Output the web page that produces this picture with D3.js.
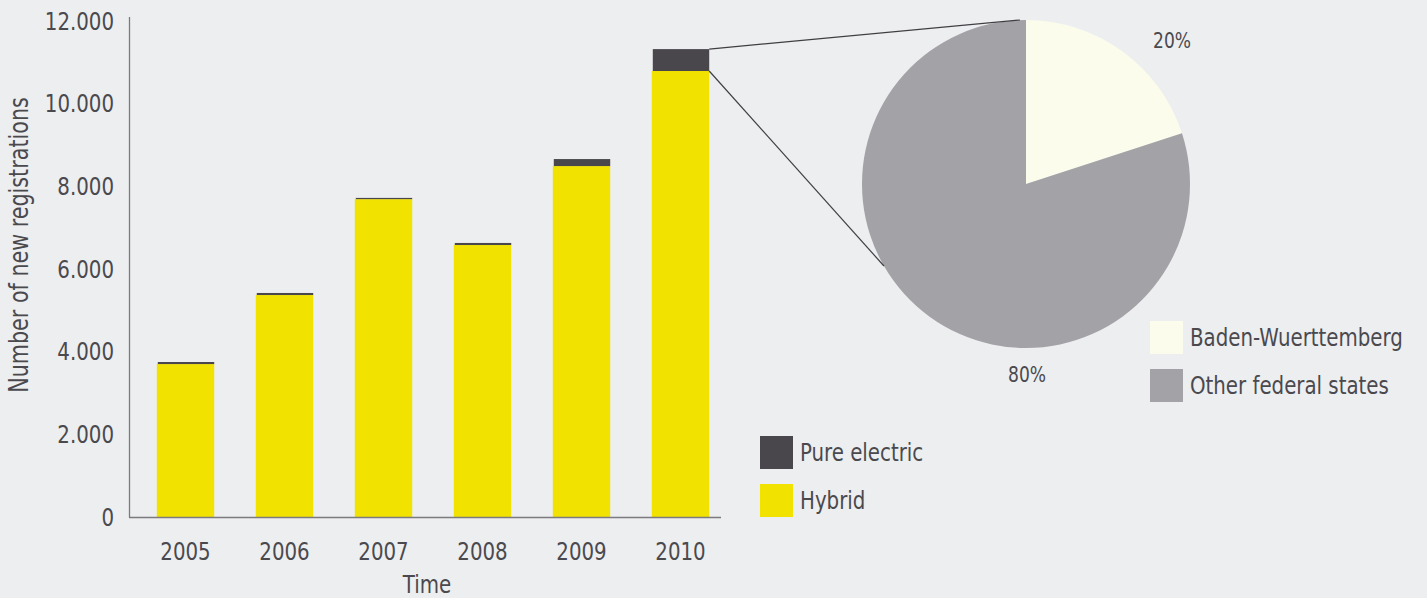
<!DOCTYPE html>
<html><head><meta charset="utf-8">
<script src="https://cdn.jsdelivr.net/npm/d3@7"></script>
<style>
html,body{margin:0;padding:0;background:#EDEEF0;}
svg{display:block;}
text{font-family:"Liberation Sans Narrow","DejaVu Sans Condensed","Liberation Sans",sans-serif;fill:#4a494e;}
</style></head><body>
<svg id="c" width="1427" height="598"></svg>
<script>
const years = ["2005","2006","2007","2008","2009","2010"];
const hybrid = [3700, 5370, 7690, 6580, 8490, 10790];
const electric = [50, 50, 30, 50, 170, 530];
const yTicks = [0, 2000, 4000, 6000, 8000, 10000, 12000];
const pieLabels = ["Baden-Wuerttemberg", "Other federal states"];
const pieValues = [20, 80];
const barLegend = ["Pure electric", "Hybrid"];

const W = 1427, H = 598;
const colHybrid = "#F2E200", colElectric = "#49474C";
const colBW = "#FBFCEB", colOther = "#A3A2A6";
const SY = 1.14; // vertical stretch of condensed type

const svg = d3.select("#c");
svg.append("rect").attr("width", W).attr("height", H).attr("fill", "#EDEEF0");

const loc = d3.formatLocale({decimal: ",", thousands: ".", grouping: [3], currency: ["", "€"]});
const fmt = loc.format(",d");

const x = d3.scaleBand().domain(years).range([136, 730]).paddingInner(0.42).paddingOuter(0.21);
const y = d3.scaleLinear().domain([0, 12000]).range([517, 21]);

function txt(parent, tx, ty, s, size, anchor, rot) {
  return parent.append("text")
    .attr("transform", `translate(${tx},${ty})` + (rot ? ` rotate(${rot})` : "") + ` scale(1,${SY})`)
    .attr("text-anchor", anchor || "start").attr("font-size", size).text(s);
}

// bars
const g = svg.append("g");
g.selectAll("rect.h").data(years).join("rect")
  .attr("x", d => x(d)).attr("width", x.bandwidth())
  .attr("y", (d, i) => y(hybrid[i])).attr("height", (d, i) => y(0) - y(hybrid[i]))
  .attr("fill", colHybrid);
g.selectAll("rect.e").data(years).join("rect")
  .attr("x", d => x(d) + 1).attr("width", x.bandwidth() - 1)
  .attr("y", (d, i) => y(hybrid[i] + electric[i])).attr("height", (d, i) => y(hybrid[i]) - y(hybrid[i] + electric[i]))
  .attr("fill", colElectric);

// y axis
const yAxis = d3.axisLeft(y).tickValues(yTicks).tickFormat(fmt).tickSize(0).tickPadding(15);
const ya = svg.append("g").attr("transform", "translate(129,0)").call(yAxis);
ya.select(".domain").remove();
ya.selectAll("text").attr("font-size", 22).attr("fill", "#4a494e").style("font-family", null)
  .attr("x", null).attr("dy", null).attr("y", null)
  .attr("transform", `translate(-15,8) scale(1,${SY})`);
svg.append("line").attr("x1", 129.5).attr("x2", 129.5).attr("y1", 17).attr("y2", 517.5).attr("stroke", "#7b7a7e").attr("stroke-width", 1.3);

// x axis
const xAxis = d3.axisBottom(x).tickSize(0).tickPadding(24);
const xa = svg.append("g").attr("transform", "translate(0,517)").call(xAxis);
xa.select(".domain").remove();
xa.selectAll("text").attr("font-size", 22).attr("fill", "#4a494e").style("font-family", null)
  .attr("y", null).attr("dy", null)
  .attr("transform", `translate(0,43) scale(1,${SY})`);
svg.append("line").attr("x1", 129).attr("x2", 721).attr("y1", 517.5).attr("y2", 517.5).attr("stroke", "#7b7a7e").attr("stroke-width", 1.3);

txt(svg, 427, 593, "Time", 22, "middle");
txt(svg, 28, 245, "Number of new registrations", 23, "middle", -90);

// bar legend
[colElectric, colHybrid].forEach((c, i) => {
  svg.append("rect").attr("x", 760).attr("y", 436 + i * 48).attr("width", 33).attr("height", 33).attr("fill", c);
  txt(svg, 800, 461 + i * 48, barLegend[i], 22);
});

// pie
const cx = 1026, cy = 184, r = 164;
const pie = d3.pie().sort(null).value(d => d);
const arcs = pie(pieValues);
const arc = d3.arc().innerRadius(0).outerRadius(r);
const pg = svg.append("g").attr("transform", `translate(${cx},${cy})`);
pg.selectAll("path").data(arcs).join("path").attr("d", arc).attr("fill", (d, i) => [colBW, colOther][i]);

// connector lines
const last = years.length - 1;
const bx = x(years[last]) + x.bandwidth();
const a2 = 240 * Math.PI / 180;
svg.append("line").attr("x1", bx).attr("y1", y(hybrid[last] + electric[last]))
  .attr("x2", cx - 6).attr("y2", cy - r).attr("stroke", "#3f3e42").attr("stroke-width", 1.2);
svg.append("line").attr("x1", bx).attr("y1", y(hybrid[last]))
  .attr("x2", cx + r * Math.sin(a2)).attr("y2", cy - r * Math.cos(a2)).attr("stroke", "#3f3e42").attr("stroke-width", 1.2);

// pie labels
txt(svg, 1172, 48, pieValues[0] + "%", 19, "middle");
txt(svg, 1027, 382, pieValues[1] + "%", 19, "middle");

// pie legend
[colBW, colOther].forEach((c, i) => {
  svg.append("rect").attr("x", 1150).attr("y", 321 + i * 48).attr("width", 33).attr("height", 33).attr("fill", c);
  txt(svg, 1190, 346 + i * 48, pieLabels[i], 22);
});
</script></body></html>
